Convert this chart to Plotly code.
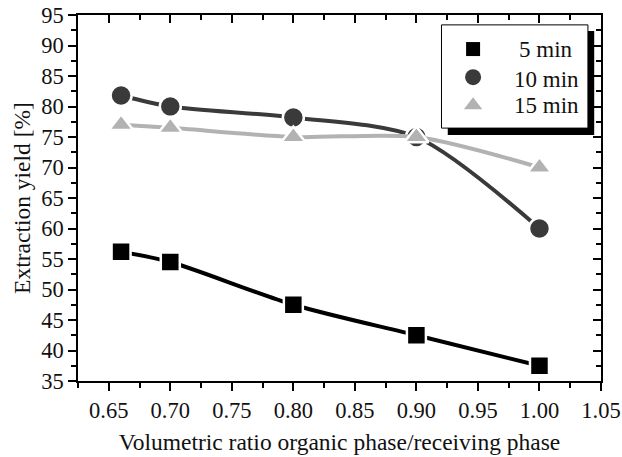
import plotly.graph_objects as go

ratio = [0.66, 0.70, 0.80, 0.90, 1.00]
yield_5 = [56.2, 54.5, 47.5, 42.5, 37.5]
yield_10 = [81.8, 80.0, 78.2, 75.0, 60.0]
yield_15 = [77.0, 76.5, 75.0, 75.0, 70.0]
series_names = ["5 min", "10 min", "15 min"]

FONT = "Liberation Serif, Times New Roman, serif"
TXT = "#111111"

fig = go.Figure()
specs = [
    (yield_5, series_names[0], "#000000", "square", 19, 14),
    (yield_10, series_names[1], "#3a3a3a", "circle", 21, 16),
    (yield_15, series_names[2], "#b2b2b2", "triangle-up", 21, 17),
]
for ys, name, col, sym, sz, lsz in specs:
    fig.add_trace(go.Scatter(
        x=ratio, y=ys, name=name, mode="lines+markers", showlegend=False,
        line=dict(color=col, width=4, shape="spline", smoothing=0.8),
        marker=dict(color=col, symbol=sym, size=sz, line=dict(color="white", width=2.5)),
    ))
# legend symbols (labels added as annotations for exact spacing)
for ys, name, col, sym, sz, lsz in specs:
    fig.add_trace(go.Scatter(
        x=[None], y=[None], name="", mode="markers", showlegend=True,
        marker=dict(color=col, symbol=sym, size=lsz),
    ))

# secondary axes for inside ticks on top and right
fig.add_trace(go.Scatter(x=[None], y=[None], xaxis="x2", yaxis="y2", showlegend=False))

axis_common = dict(showgrid=False, zeroline=False, showline=True, linecolor="black", linewidth=1.5,
                   tickcolor="black", tickwidth=1.5, ticklen=8, automargin=False)
minor_out = dict(ticks="outside", ticklen=5, tickcolor="black", tickwidth=1.5)
minor_in = dict(ticks="inside", ticklen=5, tickcolor="black", tickwidth=1.5)

label_x = [0.839, 0.8295, 0.8295]
label_y = [0.9044, 0.8251, 0.7514]
annotations = [
    dict(text=n, x=lx, y=ly, xref="paper", yref="paper", xanchor="left", yanchor="middle",
         showarrow=False, font=dict(size=23, color=TXT, family=FONT))
    for n, lx, ly in zip(series_names, label_x, label_y)
]

fig.update_layout(
    width=622, height=457,
    margin=dict(l=78, r=21, t=15, b=76),
    paper_bgcolor="white", plot_bgcolor="white",
    font=dict(family=FONT, size=22, color=TXT),
    xaxis=dict(range=[0.625, 1.05], dtick=0.05, tick0=0.65, tickformat=".2f", ticks="outside",
               minor=dict(dtick=0.025, **minor_out),
               title=dict(text="Volumetric ratio organic phase/receiving phase", font=dict(size=23.5), standoff=12),
               tickfont=dict(size=22.5), **axis_common),
    yaxis=dict(range=[35, 95], dtick=5, ticks="outside",
               minor=dict(dtick=2.5, **minor_out),
               title=dict(text="Extraction yield [%]", font=dict(size=23.5), standoff=4),
               tickfont=dict(size=22.5), **axis_common),
    xaxis2=dict(overlaying="x", matches="x", side="top", range=[0.625, 1.05], dtick=0.05, tick0=0.65,
                ticks="inside", showticklabels=False, minor=dict(dtick=0.025, **minor_in),
                **axis_common),
    yaxis2=dict(overlaying="y", side="right", range=[35, 95], dtick=5, ticks="inside", showticklabels=False,
                minor=dict(dtick=2.5, **minor_in), **axis_common),
    legend=dict(x=0.6885, y=0.959, xanchor="left", yanchor="top", bgcolor="rgba(0,0,0,0)",
                font=dict(size=19.3, color=TXT), itemwidth=60, tracegroupgap=0),
    annotations=annotations,
    shapes=[
        dict(type="rect", xref="paper", yref="paper", x0=0.707, x1=0.987, y0=0.672, y1=0.956,
             fillcolor="black", line=dict(width=0), layer="above"),
        dict(type="rect", xref="paper", yref="paper", x0=0.695, x1=0.975, y0=0.691, y1=0.973,
             fillcolor="white", line=dict(color="black", width=1), layer="above"),
    ],
)
fig.write_html("out.html")
